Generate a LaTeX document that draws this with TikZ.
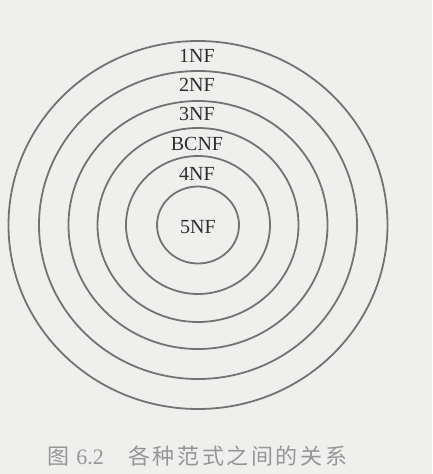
\documentclass[tikz,border=0pt]{standalone}
\usepackage{fontspec}
\setmainfont{Liberation Serif}
\newfontfamily\cjk[LetterSpace=12]{Noto Sans CJK SC}
\usepackage{tikz}

\definecolor{paper}{RGB}{239,239,238}
\definecolor{ringgray}{RGB}{115,115,115}
\definecolor{nftext}{RGB}{45,45,45}
\definecolor{capgray}{RGB}{150,150,150}

\begin{document}
\begin{tikzpicture}[x=1pt,y=1pt,yscale=-1,
  ring/.style={draw=ringgray,line width=1.8pt},
  nf/.style={inner sep=0pt,text=nftext,font=\fontsize{20}{20}\selectfont},
  captext/.style={inner sep=0pt,text=capgray,font=\fontsize{22}{22}\selectfont}]
%set diagram left start at 0, and has height of 474
\fill [paper] (0,0) rectangle (432,474);
\useasboundingbox (0,0) rectangle (432,474);

%Shape: Ellipse [1NF]
\draw [ring] (198,225) ellipse (189.5 and 184);
%Shape: Ellipse [2NF]
\draw [ring] (198,225) ellipse (159 and 154);
%Shape: Ellipse [3NF]
\draw [ring] (198,225) ellipse (129.5 and 124);
%Shape: Ellipse [BCNF]
\draw [ring] (198,225) ellipse (100.5 and 97);
%Shape: Ellipse [4NF]
\draw [ring] (198,225) ellipse (72 and 69);
%Shape: Ellipse [5NF]
\draw [ring] (198,225) ellipse (41 and 38.5);

% Text Node
\node [nf] (nfone) at (197,55.5) {1NF};
% Text Node
\node [nf] (nftwo) at (197,85) {2NF};
% Text Node
\node [nf] (nfthree) at (197,114) {3NF};
% Text Node
\node [nf] (bcnf) at (197,143.5) {BCNF};
% Text Node
\node [nf] (nffour) at (197,173.5) {4NF};
% Text Node
\node [nf] (nffive) at (198,227.5) {5NF};

% Caption
\node [captext] (caption) at (197.5,456) {{\cjk 图}\hspace{0.3em}6.2\hspace{1.1em}{\cjk 各种范式之间的关系}};

\end{tikzpicture}
\end{document}
